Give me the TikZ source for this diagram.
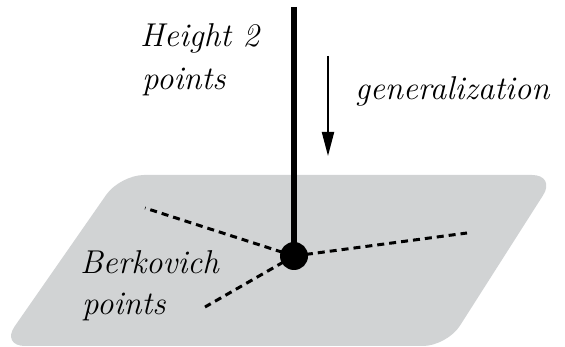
\documentclass[tikz,border=0pt]{standalone}
\usetikzlibrary{arrows.meta}
\definecolor{plane}{RGB}{209,211,212}
\tikzset{
  lbl/.style={anchor=base west, inner sep=0pt, font=\fontsize{33}{40}\selectfont\itshape},
  dashline/.style={line width=3pt, dash pattern=on 7pt off 5pt},
}
\begin{document}
\begin{tikzpicture}[x=1pt,y=-1pt]
\useasboundingbox (0,0) rectangle (565,347);
% plane
\fill[plane, rounded corners=24pt] (120,175) -- (556,175) -- (447,346) -- (1,346) -- cycle;
% point and rays
\coordinate (c) at (294,256);
\coordinate (e1) at (145,208);
\coordinate (e2) at (467,233);
\coordinate (e3) at (205,307);
\draw[dashline] (c) -- (e1);
\draw[dashline] (c) -- (e2);
\draw[dashline] (c) -- (e3);
\coordinate (top) at (294,7);
\draw[line width=5.5pt] (top) -- (c);
\node[circle, fill=black, minimum size=28pt, inner sep=0pt] (d) at (c) {};
% arrow
\coordinate (a1) at (328,56);
\coordinate (a2) at (328,156);
\draw[line width=2pt, -{Triangle[length=24pt,width=12pt]}] (a1) -- (a2);
% labels
\node[lbl] (h1) at (140,47) {Height 2};
\node[lbl] (h2) at (142,90) {points};
\node[lbl] (g) at (355,100) {generalization};
\node[lbl] (b1) at (80,274) {Berkovich};
\node[lbl] (b2) at (82,315) {points};
\end{tikzpicture}
\end{document}
